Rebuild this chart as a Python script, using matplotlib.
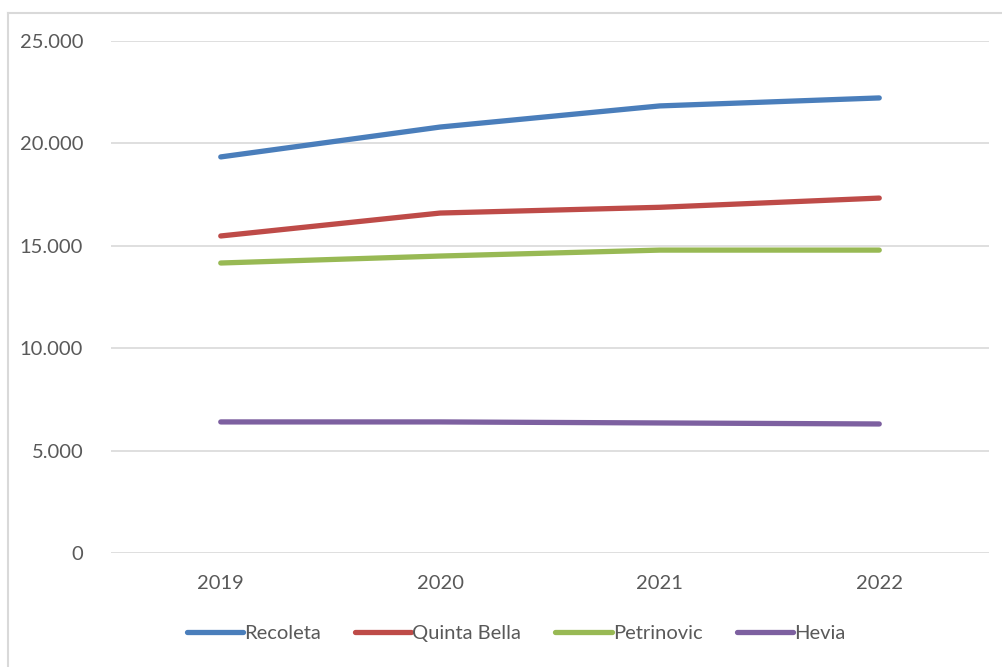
import matplotlib
matplotlib.use("Agg")
import matplotlib.pyplot as plt
from matplotlib.ticker import FuncFormatter
from matplotlib.lines import Line2D

years = ["2019", "2020", "2021", "2022"]
recoleta = [19340, 20800, 21830, 22220]
quinta_bella = [15480, 16600, 16880, 17330]
petrinovic = [14160, 14500, 14790, 14790]
hevia = [6400, 6400, 6350, 6300]

series = [
    ("Recoleta", recoleta, "#4a7ebb"),
    ("Quinta Bella", quinta_bella, "#be4b48"),
    ("Petrinovic", petrinovic, "#98b954"),
    ("Hevia", hevia, "#7d60a0"),
]

plt.rcParams['font.family'] = ['Lato', 'DejaVu Sans']

W, H = 1003, 667
fig = plt.figure(figsize=(W / 100, H / 100), dpi=100)
ax = fig.add_axes([111 / W, 1 - 553 / H, (989 - 111) / W, (553 - 41) / H])

x = list(range(len(years)))
for name, vals, col in series:
    ax.plot(x, vals, color=col, lw=3.8, solid_capstyle='round', label=name)

ax.set_xlim(-0.5, len(years) - 0.5)
ax.set_ylim(0, 25000)
ax.set_yticks(range(0, 25001, 5000))
ax.yaxis.set_major_formatter(FuncFormatter(lambda v, p: f"{int(v):,}".replace(",", ".")))
ax.set_xticks(x)
ax.set_xticklabels(years)
ax.grid(axis='y', color='#d9d9d9', lw=1.2)
ax.set_axisbelow(True)
for s in ax.spines.values():
    s.set_visible(False)
ax.tick_params(axis='both', length=0, labelsize=14.5, colors='#595959')
ax.tick_params(axis='y', pad=20)
ax.tick_params(axis='x', pad=16)

leg = fig.legend(loc='center', bbox_to_anchor=(516 / W, 1 - 633 / H), ncol=4, frameon=False,
                 fontsize=14.5, handlelength=2.8, handletextpad=0.05, columnspacing=1.7)
for t in leg.get_texts():
    t.set_color('#595959')

# outer border (top and left visible in reference)
fig.add_artist(Line2D([8 / W, 8 / W], [0, 1 - 13 / H], transform=fig.transFigure, color='#d9d9d9', lw=1.5))
fig.add_artist(Line2D([8 / W, 1], [1 - 13 / H, 1 - 13 / H], transform=fig.transFigure, color='#d9d9d9', lw=1.5))

fig.savefig("out.png", dpi=100, facecolor='white')
